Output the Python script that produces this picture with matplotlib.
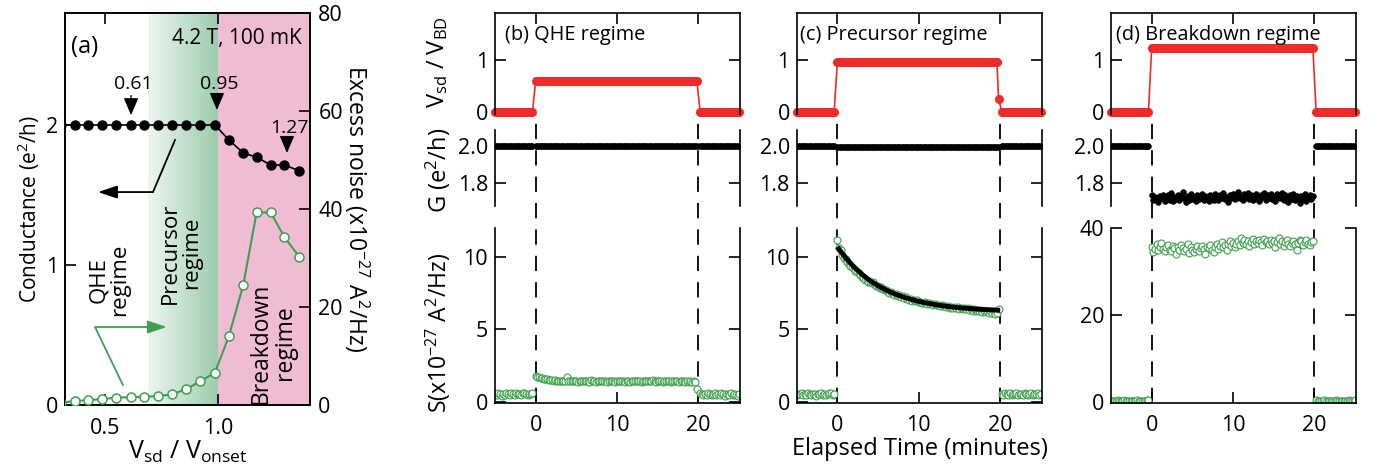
import numpy as np
import matplotlib
matplotlib.use('Agg')
import matplotlib.pyplot as plt
from matplotlib.colors import LinearSegmentedColormap
from matplotlib.lines import Line2D
import matplotlib.transforms as mtransforms

FONT = 'Open Sans'
plt.rcParams['font.family'] = [FONT, 'DejaVu Sans']
plt.rcParams['mathtext.fontset'] = 'custom'
plt.rcParams['mathtext.rm'] = FONT
plt.rcParams['mathtext.it'] = FONT
plt.rcParams['mathtext.default'] = 'regular'
plt.rcParams['lines.scale_dashes'] = False
FS = 15.5

RED = '#ee2b2b'
GREEN = '#3f9f4f'
PINK = '#f0bcd4'

# ---------------- panel (a) data ----------------
v_ratio = [0.307, 0.368, 0.426, 0.488, 0.549, 0.613, 0.673, 0.735, 0.797, 0.857,
           0.919, 0.985, 1.047, 1.110, 1.169, 1.231, 1.291, 1.356]
conductance = [2.0, 2.0, 2.0, 2.0, 2.0, 2.0, 2.0, 2.0, 2.0, 2.0,
               2.0, 2.0, 1.893, 1.80, 1.77, 1.714, 1.714, 1.674]
excess_noise = [0.5, 0.8, 1.0, 1.2, 1.5, 1.6, 1.7, 1.8, 2.2, 3.2,
                4.8, 6.6, 14.1, 24.5, 39.3, 39.3, 34.3, 30.3]
marked_ratios = [0.61, 0.95, 1.27]

# ---------------- time-trace data (b)-(d) ----------------
# sampling grid of the measurement (minutes)
t_pre = np.round(np.arange(-5.0, -0.3, 0.2), 2)
t_on = np.round(np.arange(0.0, 19.9, 0.2), 2)
t_post = np.round(np.arange(20.2, 25.05, 0.2), 2)

V_level_b = 0.60
V_level_c = 0.97
V_level_d = 1.24
V_fall_c = 0.25

G_level = 2.0
G_on_b = 2.0
G_on_c = 1.993

G_on_d = [1.735, 1.708, 1.724, 1.712, 1.696, 1.728, 1.716, 1.737, 1.702, 1.720,
          1.733, 1.710, 1.744, 1.700, 1.722, 1.713, 1.736, 1.705, 1.727, 1.752,
          1.719, 1.698, 1.728, 1.708, 1.738, 1.714, 1.725, 1.703, 1.734, 1.711,
          1.721, 1.742, 1.706, 1.731, 1.716, 1.701, 1.736, 1.723, 1.709, 1.739,
          1.728, 1.705, 1.734, 1.718, 1.744, 1.713, 1.725, 1.697, 1.733, 1.720,
          1.741, 1.711, 1.730, 1.750, 1.716, 1.726, 1.706, 1.738, 1.722, 1.745,
          1.714, 1.734, 1.705, 1.728, 1.742, 1.718, 1.700, 1.733, 1.723, 1.746,
          1.709, 1.736, 1.720, 1.741, 1.713, 1.728, 1.703, 1.739, 1.725, 1.716,
          1.744, 1.708, 1.733, 1.722, 1.697, 1.736, 1.714, 1.741, 1.706, 1.727,
          1.718, 1.692, 1.730, 1.711, 1.738, 1.703, 1.723, 1.732, 1.713, 1.727]

S_pre_b = [0.55, 0.45, 0.60, 0.50, 0.42, 0.55, 0.48, 0.62, 0.50, 0.44, 0.58, 0.52,
           0.47, 0.60, 0.55, 0.50, 0.45, 0.57, 0.62, 0.50, 0.46, 0.55, 0.52, 0.60]
S_on_b = [1.75, 1.72, 1.70, 1.66, 1.63, 1.60, 1.58, 1.55, 1.52, 1.50,
          1.48, 1.46, 1.50, 1.44, 1.42, 1.45, 1.40, 1.43, 1.41, 1.70,
          1.46, 1.42, 1.40, 1.44, 1.41, 1.43, 1.39, 1.42, 1.44, 1.40,
          1.42, 1.45, 1.40, 1.38, 1.47, 1.41, 1.43, 1.39, 1.42, 1.44,
          1.40, 1.43, 1.46, 1.41, 1.38, 1.42, 1.44, 1.40, 1.43, 1.39,
          1.41, 1.44, 1.40, 1.42, 1.45, 1.39, 1.43, 1.41, 1.38, 1.44,
          1.42, 1.40, 1.46, 1.41, 1.43, 1.39, 1.45, 1.42, 1.40, 1.44,
          1.41, 1.43, 1.50, 1.40, 1.38, 1.44, 1.41, 1.42, 1.39, 1.43,
          1.40, 1.44, 1.41, 1.38, 1.43, 1.40, 1.42, 1.45, 1.39, 1.41,
          1.43, 1.40, 1.38, 1.42, 1.39, 1.41, 1.37, 1.40, 1.35, 0.85]
S_post_b = [0.60, 0.50, 0.45, 0.55, 0.48, 0.58, 0.50, 0.43, 0.55, 0.60, 0.48, 0.52, 0.45,
            0.57, 0.50, 0.42, 0.55, 0.50, 0.46, 0.58, 0.44, 0.52, 0.48, 0.40, 0.55]

S_pre_c = [0.45, 0.55, 0.50, 0.60, 0.48, 0.52, 0.44, 0.58, 0.50, 0.47, 0.55, 0.50,
           0.42, 0.56, 0.50, 0.60, 0.48, 0.53, 0.45, 0.50, 0.57, 0.62, 0.48, 0.55]
S_on_c = [11.2, 10.65, 10.45, 10.15, 9.95, 9.85, 9.65, 9.50, 9.40, 9.30,
          9.15, 9.05, 8.95, 8.88, 8.72, 8.62, 8.55, 8.40, 8.38, 8.30,
          8.28, 8.20, 8.25, 8.05, 8.02, 7.98, 7.85, 7.90, 7.78, 7.70,
          7.72, 7.58, 7.52, 7.60, 7.45, 7.38, 7.44, 7.30, 7.35, 7.22,
          7.28, 7.15, 7.20, 7.10, 7.05, 7.12, 6.98, 7.02, 6.95, 7.00,
          6.88, 6.92, 6.85, 6.80, 6.90, 6.76, 6.82, 6.72, 6.78, 6.70,
          6.74, 6.65, 6.70, 6.60, 6.68, 6.58, 6.64, 6.55, 6.62, 6.50,
          6.56, 6.48, 6.52, 6.45, 6.55, 6.42, 6.50, 6.40, 6.46, 6.38,
          6.44, 6.35, 6.42, 6.30, 6.38, 6.28, 6.36, 6.25, 6.32, 6.22,
          6.30, 6.20, 6.28, 6.15, 6.25, 6.10, 6.18, 6.05, 6.12, 6.40]
S_post_c = [0.50, 0.45, 0.58, 0.52, 0.48, 0.60, 0.45, 0.55, 0.50, 0.62, 0.47, 0.53, 0.50,
            0.44, 0.58, 0.52, 0.48, 0.56, 0.60, 0.45, 0.52, 0.50, 0.58, 0.47, 0.50]
t_fit = [0, 0.5, 1, 1.5, 2, 3, 4, 5, 6, 7, 8, 9, 10, 11, 12, 13, 14, 15, 16, 17, 18, 19, 20]
S_fit_c = [10.70, 10.31, 9.95, 9.63, 9.33, 8.81, 8.37, 8.01, 7.71, 7.46, 7.25, 7.08,
           6.93, 6.81, 6.71, 6.62, 6.55, 6.49, 6.45, 6.40, 6.37, 6.34, 6.32]

S_pre_d = [0.20, 0.15, 0.25, 0.18, 0.30, 0.12, 0.22, 0.20, 0.28, 0.15, 0.24, 0.18,
           0.20, 0.26, 0.14, 0.22, 0.30, 0.18, 0.20, 0.25, 0.16, 0.22, 0.28, 0.30]
S_on_d = [35.6, 34.5, 35.2, 36.4, 35.0, 35.8, 36.6, 35.3, 34.9, 35.7,
          36.2, 35.1, 34.8, 35.9, 35.4, 34.2, 35.6, 35.0, 36.1, 35.5,
          34.7, 35.3, 36.3, 34.4, 35.8, 35.1, 34.6, 35.2, 35.9, 34.9,
          35.5, 36.0, 35.2, 34.0, 35.7, 35.4, 36.1, 35.0, 34.6, 35.8,
          36.4, 35.3, 35.9, 36.9, 35.6, 36.2, 35.1, 36.5, 37.1, 36.0,
          36.7, 35.7, 36.4, 37.2, 36.1, 37.8, 36.6, 37.4, 36.3, 37.0,
          35.9, 36.8, 37.5, 36.4, 37.1, 36.6, 37.3, 36.9, 36.2, 37.6,
          36.8, 37.0, 36.3, 37.4, 36.7, 37.2, 35.8, 36.9, 37.7, 36.5,
          37.1, 36.0, 36.8, 37.3, 36.4, 35.9, 36.7, 37.2, 36.3, 35.1,
          36.6, 37.4, 37.0, 36.2, 36.9, 37.3, 36.5, 36.1, 36.8, 37.0]
S_post_d = [0.30, 0.20, 0.25, 0.15, 0.22, 0.28, 0.18, 0.20, 0.26, 0.15, 0.22, 0.20, 0.30,
            0.18, 0.24, 0.20, 0.16, 0.26, 0.22, 0.18, 0.28, 0.20, 0.24, 0.15, 0.30]

panel_titles = ['(b) QHE regime', '(c) Precursor regime', '(d) Breakdown regime']

# ---------------- figure ----------------
W, H = 1380, 473
fig = plt.figure(figsize=(W / 100, H / 100), dpi=100)


def rect(x0, y0, x1, y1):
    return [x0 / W, 1 - y1 / H, (x1 - x0) / W, (y1 - y0) / H]


SPW = 1.2
TKL = 8

# ---- panel (a)
ax = fig.add_axes(rect(65, 13, 310, 405))
ax2 = ax.twinx()
xlo, xhi = 0.3236, 1.4045
grad = np.linspace(0, 1, 256).reshape(1, -1)
cmap = LinearSegmentedColormap.from_list('g', ['#eef6f0', '#9ccbad'])
ax.imshow(grad, extent=[0.69, 1.0, 0, 2.8], aspect='auto', cmap=cmap, zorder=0)
ax.axvspan(1.0, xhi + 0.1, color=PINK, lw=0, zorder=0)
ax.set_xlim(xlo, xhi)
ax.set_ylim(0, 2.8)
ax2.set_ylim(0, 80)

ax.plot(v_ratio, conductance, '-', color='k', lw=1.2, marker='o', ms=6.5,
        mfc='k', mec='k', zorder=3)
ax2.plot(v_ratio, excess_noise, '-', color=GREEN, lw=1.5, marker='o', ms=6.5,
         mfc='white', mec=GREEN, mew=1.1, zorder=3)

ax.set_xticks([0.5, 1.0])
ax.set_xticklabels(['0.5', '1.0'])
ax.set_yticks([0, 1, 2])
ax2.set_yticks([0, 20, 40, 60, 80])
for a in (ax, ax2):
    for s in a.spines.values():
        s.set_linewidth(SPW)
ax.tick_params(direction='in', length=TKL, width=SPW, labelsize=FS, top=True,
               right=False)
ax.tick_params(axis='x', pad=9)
ax.tick_params(axis='y', pad=5)
ax2.tick_params(direction='in', length=TKL, width=SPW, labelsize=FS, pad=6)
ax.set_xlabel('V$_{sd}$ / V$_{onset}$', fontsize=18, labelpad=0)
ax.set_ylabel('Conductance (e$^2$/h)', fontsize=15, labelpad=3)
ax2.set_ylabel('Excess noise (x10$^{-27}$ A$^2$/Hz)', fontsize=16.5,
               rotation=270, labelpad=20)

# arrows
ax.plot([0.809, 0.712, 0.50], [1.893, 1.521, 1.521], color='k', lw=1.3, zorder=2)
ax.annotate('', xy=(0.469, 1.521), xytext=(0.52, 1.521),
            arrowprops=dict(arrowstyle='-|>,head_length=0.9,head_width=0.3',
                            color='k', lw=1.3, shrinkA=0, shrinkB=0,
                            mutation_scale=13))
ax.plot([0.579, 0.456, 0.74], [0.143, 0.557, 0.557], color=GREEN, lw=1.3, zorder=2)
ax.annotate('', xy=(0.773, 0.557), xytext=(0.72, 0.557),
            arrowprops=dict(arrowstyle='-|>,head_length=0.9,head_width=0.3',
                            color=GREEN, lw=1.3, shrinkA=0, shrinkB=0,
                            mutation_scale=13))

# marked points: (x, arrow tip, arrow tail, label centre)
mark_pos = [(0.615, 2.07, 2.21, 2.29), (0.994, 2.107, 2.19, 2.29), (1.303, 1.80, 1.90, 1.98)]
for lbl, (xm, ytip, ytail, ylab) in zip(marked_ratios, mark_pos):
    ax.annotate('', xy=(xm, ytip), xytext=(xm, ytail),
                arrowprops=dict(arrowstyle='-|>,head_length=0.75,head_width=0.32',
                                color='k', lw=1.0, shrinkA=0, shrinkB=0,
                                mutation_scale=14))
    ax.text(xm + 0.01, ylab, f'{lbl:.2f}', fontsize=14, ha='center', va='center')

ax.text(0.41, 2.557, '(a)', fontsize=17, ha='center', va='center')
ax.text(1.082, 2.62, '4.2 T, 100 mK', fontsize=15, ha='center', va='center')
ax.text(0.518, 0.893, 'QHE\nregime', fontsize=16, rotation=90, ha='center',
        va='center', multialignment='center', linespacing=1.0)
ax.text(0.835, 1.086, 'Precursor\nregime', fontsize=16, rotation=90, ha='center',
        va='center', multialignment='center', linespacing=1.0)
ax.text(1.241, 0.443, 'Breakdown\nregime', fontsize=16.5, rotation=90, ha='center',
        va='center', multialignment='center', linespacing=1.0)

# ---- panels (b)-(d)
cols = [495, 796.7, 1111]
rows = [(13, 114), (130, 206), (228, 402.7)]
V_levels = [V_level_b, V_level_c, V_level_d]
G_on_list = [np.full(len(t_on), G_on_b), np.full(len(t_on), G_on_c), np.array(G_on_d)]
S_pre_list = [S_pre_b, S_pre_c, S_pre_d]
S_on_list = [S_on_b, S_on_c, S_on_d]
S_post_list = [S_post_b, S_post_c, S_post_d]
S_lims = [(-0.07, 12.0), (-0.07, 12.0), (-0.23, 40.1)]
S_ticks = [[0, 5, 10], [0, 5, 10], [0, 20, 40]]
title_dx = [10, 3, 5]


def style(a, top=False, bottom=False):
    for s in a.spines.values():
        s.set_linewidth(SPW)
    a.spines['top'].set_visible(top)
    a.spines['bottom'].set_visible(bottom)
    a.tick_params(direction='in', length=TKL, width=SPW, labelsize=FS,
                  left=True, right=True, top=top, bottom=bottom,
                  labelbottom=bottom)
    a.tick_params(axis='y', pad=5)
    a.tick_params(axis='x', pad=9)
    a.set_xlim(-5, 25.1)
    a.set_xticks([0, 10, 20])
    a.patch.set_visible(False)


for i, x0 in enumerate(cols):
    x1 = x0 + 245
    axV = fig.add_axes(rect(x0, rows[0][0], x1, rows[0][1]))
    axG = fig.add_axes(rect(x0, rows[1][0], x1, rows[1][1]))
    axS = fig.add_axes(rect(x0, rows[2][0], x1, rows[2][1]))
    style(axV, top=True)
    style(axG)
    style(axS, bottom=True)

    V_on = np.full(len(t_on), V_levels[i])
    if i == 1:
        V_on[-1] = V_fall_c
    t_all = np.concatenate([t_pre, t_on, t_post])
    V_all = np.concatenate([np.zeros(len(t_pre)), V_on, np.zeros(len(t_post))])
    axV.plot(t_all, V_all, '-', color=RED, lw=1.2, marker='o', ms=5.5, mec=RED,
             mfc=RED, clip_on=False)
    axV.set_ylim(-0.045, 1.91)
    axV.set_yticks([0, 1])

    G_pre = np.full(len(t_pre), G_level)
    G_post = np.full(len(t_post), G_level)
    for tt, gg in ((t_pre, G_pre), (t_on, G_on_list[i]), (t_post, G_post)):
        axG.plot(tt, gg, 'o', color='k', ms=4.2, mec='k', mew=0.4)
    axG.set_ylim(1.675, 2.087)
    axG.set_yticks([1.8, 2.0])
    axG.set_yticklabels(['1.8', '2.0'])

    for tt, ss in ((t_pre, S_pre_list[i]), (t_on, S_on_list[i]), (t_post, S_post_list[i])):
        axS.plot(tt, ss, 'o', ms=5, mfc='white', mec=GREEN, mew=0.8, zorder=2)
    if i == 1:
        axS.plot(t_fit, S_fit_c, '-', color='k', lw=3.5, zorder=3,
                 solid_capstyle='butt')
    axS.set_ylim(*S_lims[i])
    axS.set_yticks(S_ticks[i])

    axV.text(title_dx[i] / 245, 0.78, panel_titles[i], transform=axV.transAxes,
             fontsize=14.3, ha='left', va='center')

    trans = mtransforms.blended_transform_factory(axS.transData, fig.transFigure)
    for xv in (0, 20):
        fig.add_artist(Line2D([xv, xv], [1 - 402.7 / H, 1 - 112 / H], transform=trans,
                              color='k', lw=1.3, dashes=(11, 8), zorder=-1))

    if i == 0:
        fig.text(438 / W, 1 - 62 / H, 'V$_{sd}$ / V$_{BD}$', rotation=90,
                 fontsize=17, ha='center', va='center')
        fig.text(438 / W, 1 - 170 / H, 'G (e$^2$/h)', rotation=90,
                 fontsize=17, ha='center', va='center')
        fig.text(438 / W, 1 - 333 / H, 'S(x10$^{-27}$ A$^2$/Hz)', rotation=90,
                 fontsize=16.5, ha='center', va='center')
    if i == 1:
        fig.text(920 / W, 1 - 449 / H, 'Elapsed Time (minutes)', fontsize=17,
                 ha='center', va='center')

fig.savefig('out.png', dpi=100)
